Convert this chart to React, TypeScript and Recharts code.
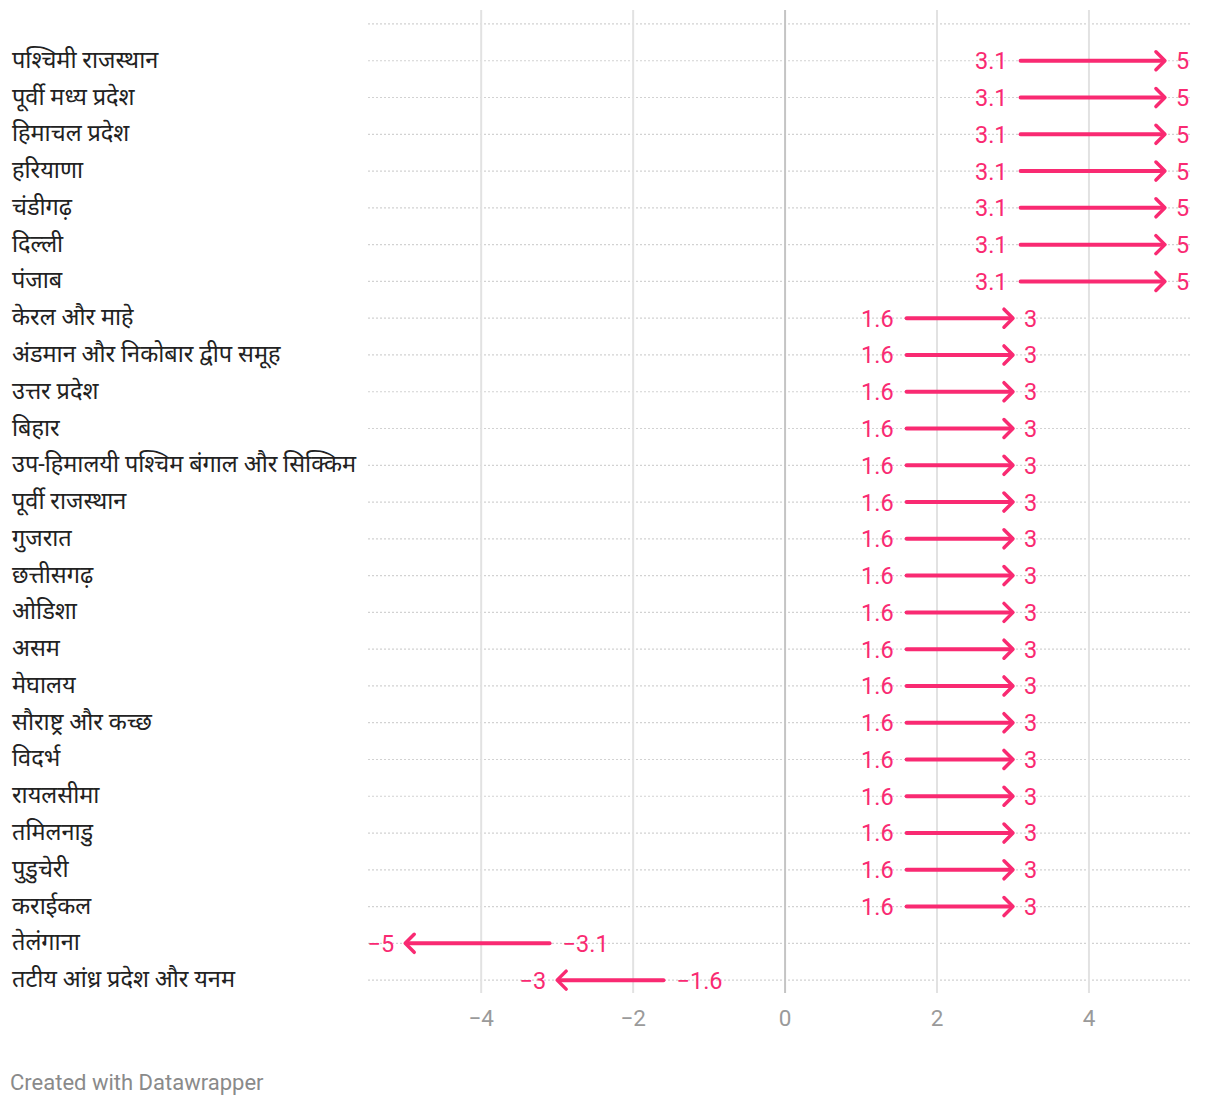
import React from "react";
import {
  ComposedChart,
  XAxis,
  YAxis,
  ReferenceLine,
  Scatter,
} from "recharts";

const REGIONS = [
  "पश्चिमी राजस्थान",
  "पूर्वी मध्य प्रदेश",
  "हिमाचल प्रदेश",
  "हरियाणा",
  "चंडीगढ़",
  "दिल्ली",
  "पंजाब",
  "केरल और माहे",
  "अंडमान और निकोबार द्वीप समूह",
  "उत्तर प्रदेश",
  "बिहार",
  "उप-हिमालयी पश्चिम बंगाल और सिक्किम",
  "पूर्वी राजस्थान",
  "गुजरात",
  "छत्तीसगढ़",
  "ओडिशा",
  "असम",
  "मेघालय",
  "सौराष्ट्र और कच्छ",
  "विदर्भ",
  "रायलसीमा",
  "तमिलनाडु",
  "पुडुचेरी",
  "कराईकल",
  "तेलंगाना",
  "तटीय आंध्र प्रदेश और यनम",
];

const FROM = [
  3.1, 3.1, 3.1, 3.1, 3.1, 3.1, 3.1,
  1.6, 1.6, 1.6, 1.6, 1.6, 1.6, 1.6, 1.6, 1.6, 1.6, 1.6, 1.6, 1.6, 1.6, 1.6, 1.6, 1.6,
  -3.1, -1.6,
];

const TO = [
  5, 5, 5, 5, 5, 5, 5,
  3, 3, 3, 3, 3, 3, 3, 3, 3, 3, 3, 3, 3, 3, 3, 3, 3,
  -5, -3,
];

const X_TICKS = [-4, -2, 0, 2, 4];

const PINK = "#f92a72";

const fmt = (v: number) => String(v).replace("-", "\u2212");

const rows = REGIONS.map((name, i) => ({ name, idx: i, from: FROM[i], to: TO[i] }));
const yTicks = [-1, ...rows.map((r) => r.idx)];

function Arrow(props: any) {
  const { x1, y1, x2, from, to } = props;
  const dir = x2 >= x1 ? 1 : -1;
  const head = 9;
  return (
    <g>
      <line
        x1={x1}
        y1={y1}
        x2={x2 - dir * 2}
        y2={y1}
        stroke={PINK}
        strokeWidth={4}
        strokeLinecap="round"
      />
      <polyline
        points={`${x2 - dir * head},${y1 - head} ${x2},${y1} ${x2 - dir * head},${y1 + head}`}
        fill="none"
        stroke={PINK}
        strokeWidth={3.5}
        strokeLinecap="round"
        strokeLinejoin="round"
      />
      <text
        x={x1 - dir * 13}
        y={y1}
        dy="0.36em"
        textAnchor={dir > 0 ? "end" : "start"}
        fill={PINK}
        fontSize={23.5}
        fontFamily="Roboto, sans-serif"
      >
        {fmt(from)}
      </text>
      <text
        x={x2 + dir * 11}
        y={y1}
        dy="0.36em"
        textAnchor={dir > 0 ? "start" : "end"}
        fill={PINK}
        fontSize={23.5}
        fontFamily="Roboto, sans-serif"
      >
        {fmt(to)}
      </text>
    </g>
  );
}

function RegionTick(props: any) {
  const { y, payload } = props;
  if (payload.value < 0) return <g />;
  return (
    <text
      x={4}
      y={y}
      dy={7}
      textAnchor="start"
      fill="#222"
      fontSize={23.5}
      fontFamily="Roboto, 'Noto Sans', sans-serif"
    >
      {REGIONS[payload.value]}
    </text>
  );
}

function ValueTick(props: any) {
  const { x, y, payload } = props;
  return (
    <text
      x={x}
      y={y}
      dy={25}
      textAnchor="middle"
      fill="#9a9a9a"
      fontSize={22.5}
      fontFamily="Roboto, sans-serif"
    >
      {fmt(payload.value)}
    </text>
  );
}

export default function App() {
  return (
    <div style={{ position: "relative", width: 1204, height: 1100 }}>
      <ComposedChart
        width={1204}
        height={1040}
        data={rows}
        margin={{ top: 2, right: 22, bottom: 0, left: 0 }}
      >
        <XAxis
          type="number"
          dataKey="to"
          domain={[-5.49, 5.33]}
          ticks={X_TICKS}
          allowDataOverflow
          axisLine={false}
          tickLine={false}
          height={55}
          tick={<ValueTick />}
        />
        <YAxis
          type="number"
          dataKey="idx"
          reversed
          domain={[-1.38, 25.35]}
          ticks={yTicks}
          interval={0}
          allowDataOverflow
          axisLine={false}
          tickLine={false}
          width={360}
          tick={<RegionTick />}
        />
        {yTicks.map((t) => (
          <ReferenceLine
            key={`h${t}`}
            y={t}
            stroke="#d2d2d2"
            strokeWidth={1.2}
            strokeDasharray="2 2"
          />
        ))}
        {X_TICKS.map((t) => (
          <ReferenceLine
            key={`v${t}`}
            x={t}
            stroke={t === 0 ? "#c4c4c4" : "#e2e2e2"}
            strokeWidth={2}
          />
        ))}
        <Scatter
          data={rows}
          dataKey="idx"
          shape={() => <g />}
          isAnimationActive={false}
        />
        {rows.map((r) => (
          <ReferenceLine
            key={r.name}
            segment={[
              { x: r.from, y: r.idx },
              { x: r.to, y: r.idx },
            ]}
            ifOverflow="visible"
            shape={(p: any) => <Arrow {...p} from={r.from} to={r.to} />}
          />
        ))}
      </ComposedChart>
      <div
        style={{
          position: "absolute",
          left: 2,
          top: 1064,
          fontFamily: "Roboto, sans-serif",
          fontSize: 22,
          lineHeight: "22px",
          color: "#8a8a8a",
        }}
      >
        Created with Datawrapper
      </div>
    </div>
  );
}
